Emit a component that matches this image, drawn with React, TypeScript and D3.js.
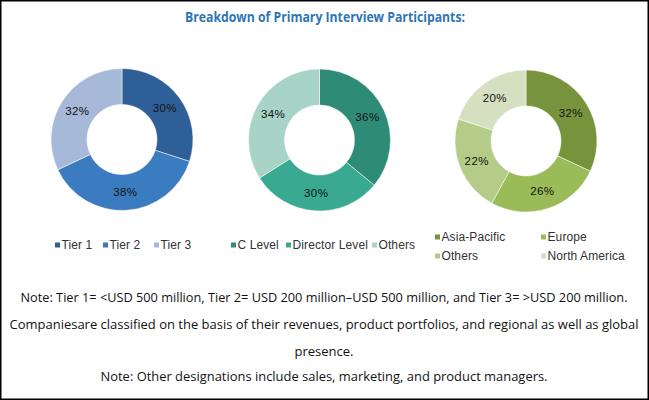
import React from "react";
import * as d3 from "d3";

// ---------- data ----------
const chartTitle = "Breakdown of Primary Interview Participants:";

const tierLabels = ["Tier 1", "Tier 2", "Tier 3"];
const tierValues = [30, 38, 32];

const designationLabels = ["C Level", "Director Level", "Others"];
const designationValues = [36, 30, 34];

const regionLabels = ["Asia-Pacific", "Europe", "Others", "North America"];
const regionValues = [32, 26, 22, 20];

const noteLines = [
  "Note: Tier 1= <USD 500 million, Tier 2= USD 200 million\u2013USD 500 million, and Tier 3= >USD 200 million.",
  "Companiesare classified on the basis of their revenues, product portfolios, and regional as well as global",
  "presence.",
  "Note: Other designations include sales, marketing, and product managers.",
];

// ---------- styles / layout ----------
const W = 649;
const H = 400;
const tierColors = ["#2F5F97", "#3B7BC0", "#A6B9D8"];
const designationColors = ["#2E8B78", "#3AA992", "#A8D3C7"];
const regionColors = ["#77933C", "#9BBB59", "#B4CC88", "#D5E0C0"];

const donuts = [
  { labels: tierLabels, values: tierValues, colors: tierColors, cx: 122, cy: 139.5 },
  { labels: designationLabels, values: designationValues, colors: designationColors, cx: 319.5, cy: 140 },
  { labels: regionLabels, values: regionValues, colors: regionColors, cx: 526, cy: 141 },
];

const legendTier = { xs: [55, 103, 154], y: 245 };
const legendDesig = { xs: [231, 286, 372], y: 245 };
const legendRegion = { xs: [435, 541, 435, 541], ys: [237, 237, 256, 256] };

const noteLayout = [
  { y: 297, len: 607 },
  { y: 324, len: 629 },
  { y: 351, len: 59 },
  { y: 376, len: 447 },
];

const labelFont = "'Liberation Sans', Arial, sans-serif";
const noteFont = "'Open Sans', 'Liberation Sans', sans-serif";

function Donut({ labels, values, colors, cx, cy }: any) {
  const pie = d3.pie<number>().sort(null).value((d) => d)(values);
  const arc = d3.arc<d3.PieArcDatum<number>>().innerRadius(35).outerRadius(71);
  const labelArc = d3.arc<d3.PieArcDatum<number>>().innerRadius(53).outerRadius(53);
  return (
    <g transform={`translate(${cx},${cy})`}>
      {pie.map((p, i) => (
        <path key={labels[i]} d={arc(p) || ""} fill={colors[i]} stroke="#ffffff" strokeWidth={0.5} />
      ))}
      {pie.map((p, i) => {
        const [x, y] = labelArc.centroid(p);
        return (
          <text
            key={"l" + i}
            x={x}
            y={y}
            textAnchor="middle"
            dominantBaseline="central"
            fontFamily={labelFont}
            fontSize={11.5}
            letterSpacing={0.4}
            fill="#111"
          >
            {values[i]}%
          </text>
        );
      })}
    </g>
  );
}

function LegendItem({ x, y, color, label }: any) {
  return (
    <g>
      <rect x={x} y={y - 2.5} width={5} height={5} fill={color} />
      <text
        x={x + 6.5}
        y={y + 4.2}
        fontFamily={labelFont}
        fontSize={12}
        letterSpacing={0.1}
        fill="#333"
      >
        {label}
      </text>
    </g>
  );
}

export default function App() {
  return (
    <svg
      width={W}
      height={H}
      viewBox={`0 0 ${W} ${H}`}
      style={{ position: "absolute", left: 0, top: 0, background: "#fff" }}
    >
      <rect x={0} y={0} width={W} height={H} fill="#ffffff" />
      <rect x={0.75} y={0.75} width={W - 1.5} height={H - 1.5} fill="none" stroke="#000" strokeWidth={1.5} />
      <text
        x={325}
        y={22}
        textAnchor="middle"
        fontFamily={noteFont}
        fontWeight="bold"
        fontSize={13.5}
        fill="#2E75B6"
        textLength={280}
        lengthAdjust="spacingAndGlyphs"
      >
        {chartTitle}
      </text>

      {donuts.map((d, i) => (
        <Donut key={i} {...d} />
      ))}

      {tierLabels.map((l, i) => (
        <LegendItem key={l} x={legendTier.xs[i]} y={legendTier.y} color={tierColors[i]} label={l} />
      ))}
      {designationLabels.map((l, i) => (
        <LegendItem key={l} x={legendDesig.xs[i]} y={legendDesig.y} color={designationColors[i]} label={l} />
      ))}
      {regionLabels.map((l, i) => (
        <LegendItem key={l + i} x={legendRegion.xs[i]} y={legendRegion.ys[i]} color={regionColors[i]} label={l} />
      ))}

      {noteLines.map((t, i) => (
        <text
          key={i}
          x={324}
          y={noteLayout[i].y + 4.5}
          textAnchor="middle"
          fontFamily={noteFont}
          fontSize={12.5}
          fill="#111"
          textLength={noteLayout[i].len}
          lengthAdjust="spacingAndGlyphs"
        >
          {t}
        </text>
      ))}
    </svg>
  );
}
